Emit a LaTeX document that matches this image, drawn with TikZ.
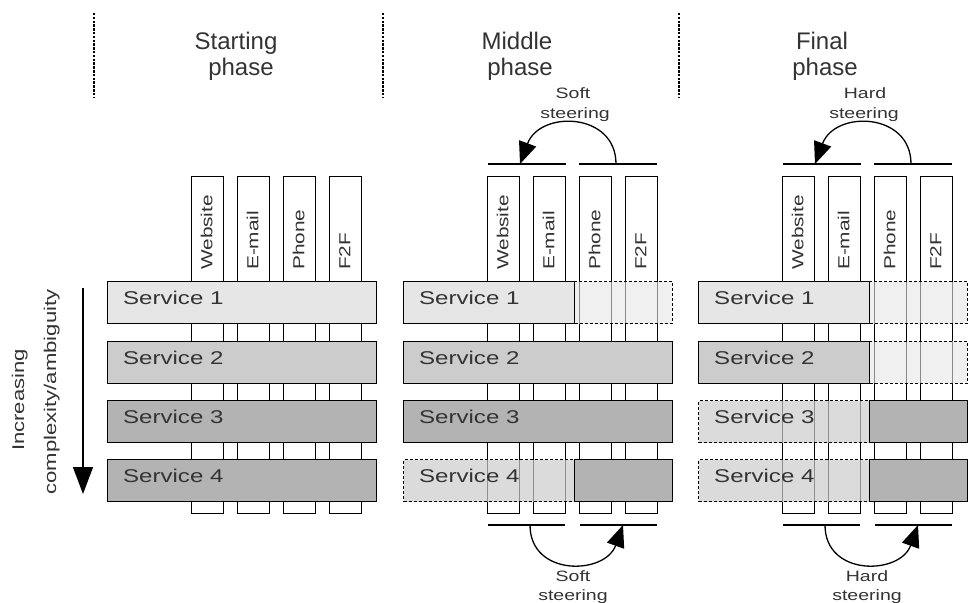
\documentclass[tikz,border=0pt]{standalone}
\usepackage{fontspec}
\setmainfont[FakeStretch=1.3]{Liberation Sans}
\newfontfamily\hdrfont{Liberation Sans}
\usetikzlibrary{arrows.meta}
\definecolor{sone}{HTML}{E6E6E6}
\definecolor{stwo}{HTML}{CCCCCC}
\definecolor{sthree}{HTML}{B3B3B3}
\definecolor{txt}{HTML}{333333}
\begin{document}
\begin{tikzpicture}[x=1pt,y=-1pt,
  colbox/.style={draw=black, fill=white, line width=1.3pt, minimum width=32.5pt, minimum height=337pt, inner sep=0pt, anchor=north west},
  svc/.style={draw=black, line width=1.4pt, minimum height=42pt, inner sep=0pt, anchor=north west},
  ghost/.style={draw=black, line width=1.1pt, dash pattern=on 3pt off 2pt, minimum height=42pt, inner sep=0pt, anchor=north west},
  full/.style={minimum width=268.5pt},
  lefthalf/.style={minimum width=171pt},
  righthalf/.style={minimum width=97.5pt},
  lbl/.style={text=txt, font=\fontsize{18.5}{20}\selectfont, anchor=west, inner sep=0pt},
  collbl/.style={text=txt, font=\fontsize{16}{19}\selectfont, rotate=90, anchor=west, inner sep=0pt},
  hdr/.style={text=txt, font=\hdrfont\fontsize{24}{25}\selectfont, anchor=base, inner sep=0pt},
  steer/.style={text=txt, font=\fontsize{15}{20}\selectfont, anchor=base, inner sep=0pt},
  sidelbl/.style={text=txt, font=\fontsize{17}{20}\selectfont, rotate=90, anchor=base, inner sep=0pt},
  sep/.style={line width=1.3pt, dash pattern=on 2.5pt off 1.3pt},
  bar/.style={line width=1.3pt},
  steerarrow/.style={line width=1.3pt, -{Triangle[length=22pt,width=18pt]}},
]
\useasboundingbox (0,0) rectangle (976,602);
\clip (0,0) rectangle (976,602);

% phase separators
\foreach \sx/\nm in {94/sa,383/sb,679/sc} {
  \coordinate (\nm1) at (\sx,13);
  \coordinate (\nm2) at (\sx,98);
  \draw[sep] (\nm1) -- (\nm2);
}

% headers
\node[hdr] (hA1) at (236,50) {Starting};
\node[hdr] (hA2) at (241,75) {phase};
\node[hdr] (hB1) at (517,50) {Middle};
\node[hdr] (hB2) at (520,75) {phase};
\node[hdr] (hC1) at (822,50) {Final};
\node[hdr] (hC2) at (825,75) {phase};

% channel columns
\foreach \o/\p in {0/A,296/B,591/C} {
  \foreach \cx/\nm/\tx in {190.5/web/Website,236.5/mail/E-mail,282.5/phone/Phone,328.5/ftf/F2F} {
    \node[colbox] (\p\nm) at (\o+\cx,176) {};
    \node[collbl] (\p\nm l) at (\o+\cx+16.25,270) {\tx};
  }
}

% panel A services
\node[svc, full, fill=sone]   (A1) at (107,281) {};
\node[svc, full, fill=stwo]   (A2) at (107,340.5) {};
\node[svc, full, fill=sthree] (A3) at (107,400) {};
\node[svc, full, fill=sthree] (A4) at (107,459) {};

% panel B services
\node[svc, lefthalf, fill=sone] (B1s) at (403,281) {};
\node[ghost, righthalf, fill=sone, fill opacity=.6] (B1g) at (574,281) {};
\node[svc, full, fill=stwo]   (B2) at (403,340.5) {};
\node[svc, full, fill=sthree] (B3) at (403,400) {};
\node[ghost, lefthalf, fill=stwo, fill opacity=.7] (B4g) at (403,459) {};
\node[svc, righthalf, fill=sthree] (B4s) at (574,459) {};

% panel C services
\node[svc, lefthalf, fill=sone] (C1s) at (698,281) {};
\node[ghost, righthalf, fill=sone, fill opacity=.6] (C1g) at (869,281) {};
\node[svc, lefthalf, fill=stwo] (C2s) at (698,340.5) {};
\node[ghost, righthalf, fill=sone, fill opacity=.6] (C2g) at (869,340.5) {};
\node[ghost, lefthalf, fill=stwo, fill opacity=.7] (C3g) at (698,400) {};
\node[svc, righthalf, fill=sthree] (C3s) at (869,400) {};
\node[ghost, lefthalf, fill=stwo, fill opacity=.7] (C4g) at (698,459) {};
\node[svc, righthalf, fill=sthree] (C4s) at (869,459) {};

% service labels
\foreach \o/\p in {0/A,296/B,591/C} {
  \foreach \r/\yc in {1/298,2/357.5,3/417,4/476} {
    \node[lbl] (\p t\r) at (\o+123,\yc) {Service \r};
  }
}

% steering bars and arcs
\foreach \o/\p in {296/B,591/C} {
  \coordinate (\p-tl1) at (\o+192,164); \coordinate (\p-tl2) at (\o+270,164);
  \coordinate (\p-tr1) at (\o+283,164); \coordinate (\p-tr2) at (\o+361,164);
  \coordinate (\p-bl1) at (\o+192,525); \coordinate (\p-bl2) at (\o+269,525);
  \coordinate (\p-br1) at (\o+284,525); \coordinate (\p-br2) at (\o+361,525);
  \draw[bar] (\p-tl1) -- (\p-tl2);
  \draw[bar] (\p-tr1) -- (\p-tr2);
  \draw[bar] (\p-bl1) -- (\p-bl2);
  \draw[bar] (\p-br1) -- (\p-br2);
  \coordinate (\p-ts) at (\o+320,164); \coordinate (\p-te) at (\o+224,164);
  \coordinate (\p-bs) at (\o+234,525); \coordinate (\p-be) at (\o+327,525);
  \draw[steerarrow] (\p-ts) .. controls (\o+320,112) and (\o+244,110) .. (\p-te);
  \draw[steerarrow] (\p-bs) .. controls (\o+234,577) and (\o+309,575) .. (\p-be);
}

% steering labels
\node[steer] (sBt1) at (573,98) {Soft};
\node[steer] (sBt2) at (575,118) {steering};
\node[steer] (sCt1) at (865,98) {Hard};
\node[steer] (sCt2) at (864,118) {steering};
\node[steer] (sBb1) at (573,581) {Soft};
\node[steer] (sBb2) at (573,600) {steering};
\node[steer] (sCb1) at (867,581) {Hard};
\node[steer] (sCb2) at (867,600) {steering};

% complexity axis
\coordinate (axS) at (83,288);
\coordinate (axE) at (83,494);
\draw[line width=1.3pt, -{Triangle[length=27pt,width=20pt]}] (axS) -- (axE);
\node[sidelbl] (ax1) at (24,400) {Increasing};
\node[sidelbl] (ax2) at (56,392) {complexity/ambiguity};
\end{tikzpicture}
\end{document}
